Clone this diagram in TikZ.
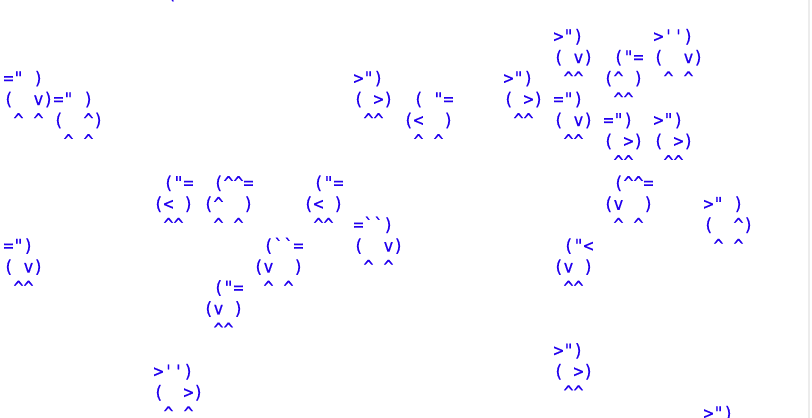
\documentclass[tikz,border=0pt]{standalone}
\usepackage{fontspec}
\setmonofont{DejaVu Sans Mono}[FakeStretch=0.949, FakeBold=0.5]
\definecolor{birdblue}{RGB}{34,0,238}
\definecolor{edgegrey}{RGB}{236,236,236}
\newcommand\kc{\symbol{94}}
\newcommand\kq{\symbol{39}}
\newcommand\kb{\symbol{96}}
\newcommand\frag[4]{\node[bt] (#1) at ({3.5+10*#2},{-(21.3+20.94*#3)}) {#4};}
\begin{document}
\begin{tikzpicture}[x=1pt,y=1pt,
  bt/.style={inner sep=0pt, outer sep=0pt, anchor=base west, text=birdblue,
    font=\ttfamily\fontsize{17.5pt}{21pt}\selectfont}]
\fill[white] (0,0) rectangle (812,-418);
\useasboundingbox (0,0) rectangle (812,-418);
\clip (0,0) rectangle (812,-418);
\draw[edgegrey, line width=1.5pt] (809,0) -- (809,-418);
% row -1 (only the foot of a bracket shows)
\node[bt] (a0) at (166.5,0.9) {(};
% row 1
\frag{a1}{55}{1}{>")}
\frag{a2}{65}{1}{>\kq\kq)}
% row 2
\frag{b1}{55}{2}{(~v)}
\frag{b2}{61}{2}{("=}
\frag{b3}{65}{2}{(~~v)}
% row 3
\frag{c1}{0}{3}{="~)}
\frag{c2}{35}{3}{>")}
\frag{c3}{50}{3}{>")}
\frag{c4}{56}{3}{\kc\kc}
\frag{c5}{60}{3}{(\kc~)}
\frag{c6}{66}{3}{\kc~\kc}
% row 4
\frag{d1}{0}{4}{(~~v)="~)}
\frag{d2}{35}{4}{(~>)}
\frag{d3}{41}{4}{(~"=}
\frag{d4}{50}{4}{(~>)}
\frag{d5}{55}{4}{=")}
\frag{d6}{61}{4}{\kc\kc}
% row 5
\frag{e1}{1}{5}{\kc~\kc}
\frag{e2}{5}{5}{(~~\kc)}
\frag{e3}{36}{5}{\kc\kc}
\frag{e4}{40}{5}{(<~~)}
\frag{e5}{51}{5}{\kc\kc}
\frag{e6}{55}{5}{(~v)}
\frag{e7}{60}{5}{=")}
\frag{e8}{65}{5}{>")}
% row 6
\frag{f1}{6}{6}{\kc~\kc}
\frag{f2}{41}{6}{\kc~\kc}
\frag{f3}{56}{6}{\kc\kc}
\frag{f4}{60}{6}{(~>)}
\frag{f5}{65}{6}{(~>)}
% row 7
\frag{g1}{61}{7}{\kc\kc}
\frag{g2}{66}{7}{\kc\kc}
% row 8
\frag{h1}{16}{8}{("=}
\frag{h2}{21}{8}{(\kc\kc=}
\frag{h3}{31}{8}{("=}
\frag{h4}{61}{8}{(\kc\kc=}
% row 9
\frag{i1}{15}{9}{(<~)}
\frag{i2}{20}{9}{(\kc~~)}
\frag{i3}{30}{9}{(<~)}
\frag{i4}{60}{9}{(v~~)}
\frag{i5}{70}{9}{>"~)}
% row 10
\frag{j1}{16}{10}{\kc\kc}
\frag{j2}{21}{10}{\kc~\kc}
\frag{j3}{31}{10}{\kc\kc}
\frag{j4}{35}{10}{=\kb\kb)}
\frag{j5}{61}{10}{\kc~\kc}
\frag{j6}{70}{10}{(~~\kc)}
% row 11
\frag{k1}{0}{11}{=")}
\frag{k2}{26}{11}{(\kb\kb=}
\frag{k3}{35}{11}{(~~v)}
\frag{k4}{56}{11}{("<}
\frag{k5}{71}{11}{\kc~\kc}
% row 12
\frag{l1}{0}{12}{(~v)}
\frag{l2}{25}{12}{(v~~)}
\frag{l3}{36}{12}{\kc~\kc}
\frag{l4}{55}{12}{(v~)}
% row 13
\frag{m1}{1}{13}{\kc\kc}
\frag{m2}{21}{13}{("=}
\frag{m3}{26}{13}{\kc~\kc}
\frag{m4}{56}{13}{\kc\kc}
% row 14
\frag{n1}{20}{14}{(v~)}
% row 15
\frag{o1}{21}{15}{\kc\kc}
% row 16
\frag{p1}{55}{16}{>")}
% row 17
\frag{q1}{15}{17}{>\kq\kq)}
\frag{q2}{55}{17}{(~>)}
% row 18
\frag{r1}{15}{18}{(~~>)}
\frag{r2}{56}{18}{\kc\kc}
% row 19
\frag{s1}{16}{19}{\kc~\kc}
\frag{s2}{70}{19}{>")}
\end{tikzpicture}
\end{document}
